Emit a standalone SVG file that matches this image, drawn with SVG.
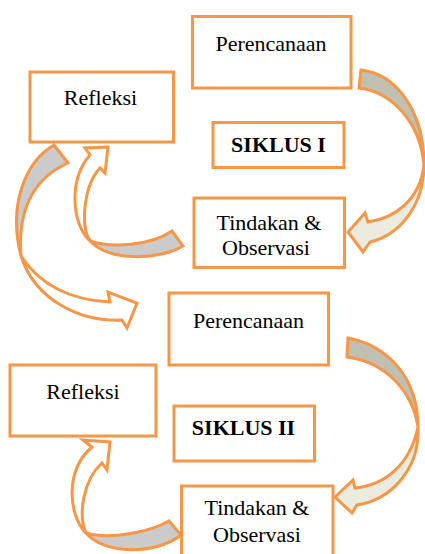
<svg xmlns="http://www.w3.org/2000/svg" width="425" height="554" viewBox="0 0 425 554">
<style>
.box{fill:#ffffff;stroke:#F79646;stroke-width:3}
.lbl{font-family:"Liberation Serif","Times New Roman",serif;font-size:22px;fill:#000;text-anchor:middle}
.bold{font-weight:bold}
.arr{stroke:#F79646;stroke-width:3;stroke-linejoin:miter}
.backG{fill:#BFBFB2}
.frontG{fill:#EBEBDF}
.back{fill:#CBCBCB}
.front{fill:#ffffff}
</style>
<rect width="425" height="554" fill="#ffffff"/>
<g id="connectors">
  <g id="arrow-plan1-act1">
    <path class="arr backG" d="M361,70 C397,74 424,112 424,165 C420,122 392,92 359,88 Z"/>
    <path class="arr frontG" d="M424,165 C424,205 400,235 370,242 L363,252 L348,232 L365,213 L368,222 C395,218 420,200 424,165 Z"/>
  </g>
  <g id="arrow-act1-ref1">
    <path class="arr back" d="M90,241 C110,262 160,260 183,246 L172,231 C150,246 112,248 90,241 Z"/>
    <path class="arr front" d="M90,241 C72,225 68,180 90,155 L85,148 L108,147 L105,173 L100,168 C84,185 80,225 90,241 Z"/>
  </g>
  <g id="arrow-ref1-plan2">
    <path class="arr back" d="M54,145 C25,162 8,205 21,256 C18,215 30,180 68,163 Z"/>
    <path class="arr front" d="M21,256 C35,300 80,322 122,320 L127,328 L137,303 L108,292 L110,302 C70,300 40,285 21,256 Z"/>
  </g>
  <g id="arrow-plan2-act2">
    <path class="arr backG" d="M348,338 C385,345 418,375 418,427 C412,390 385,362 347,357 Z"/>
    <path class="arr frontG" d="M418,427 C420,470 390,500 357,505 L352,513 L335,497 L353,480 L355,488 C385,485 410,465 418,427 Z"/>
  </g>
  <g id="arrow-act2-ref2">
    <path class="arr back" d="M86,533 C105,555 155,555 181,535 L169,521 C150,532 110,540 86,533 Z"/>
    <path class="arr front" d="M86,533 C68,515 65,470 92,447 L83,440 L110,442 L107,470 L102,463 C83,480 78,515 86,533 Z"/>
  </g>
</g>
<g id="perencanaan1">
  <rect class="box" x="192.5" y="16.5" width="158.5" height="71.5"/>
  <text class="lbl" x="271" y="51">Perencanaan</text>
</g>
<g id="refleksi1">
  <rect class="box" x="30" y="72" width="143.5" height="70"/>
  <text class="lbl" x="100.5" y="105">Refleksi</text>
</g>
<g id="siklus1">
  <rect class="box" x="213" y="122.5" width="131" height="45"/>
  <text class="lbl bold" x="278.5" y="152">SIKLUS I</text>
</g>
<g id="tindakan1">
  <rect class="box" x="194" y="198" width="150.5" height="69.5"/>
  <text class="lbl" x="269" y="229.5">Tindakan &amp;</text>
  <text class="lbl" x="266" y="255">Observasi</text>
</g>
<g id="perencanaan2">
  <rect class="box" x="169" y="293" width="159.5" height="72"/>
  <text class="lbl" x="248.5" y="327.5">Perencanaan</text>
</g>
<g id="refleksi2">
  <rect class="box" x="10" y="365" width="146" height="71"/>
  <text class="lbl" x="83" y="398.5">Refleksi</text>
</g>
<g id="siklus2">
  <rect class="box" x="174" y="406" width="140.5" height="55"/>
  <text class="lbl bold" x="243.5" y="435">SIKLUS II</text>
</g>
<g id="tindakan2">
  <rect class="box" x="181.5" y="486" width="151.5" height="75"/>
  <text class="lbl" x="257" y="515">Tindakan &amp;</text>
  <text class="lbl" x="257" y="541.5">Observasi</text>
</g>
</svg>
